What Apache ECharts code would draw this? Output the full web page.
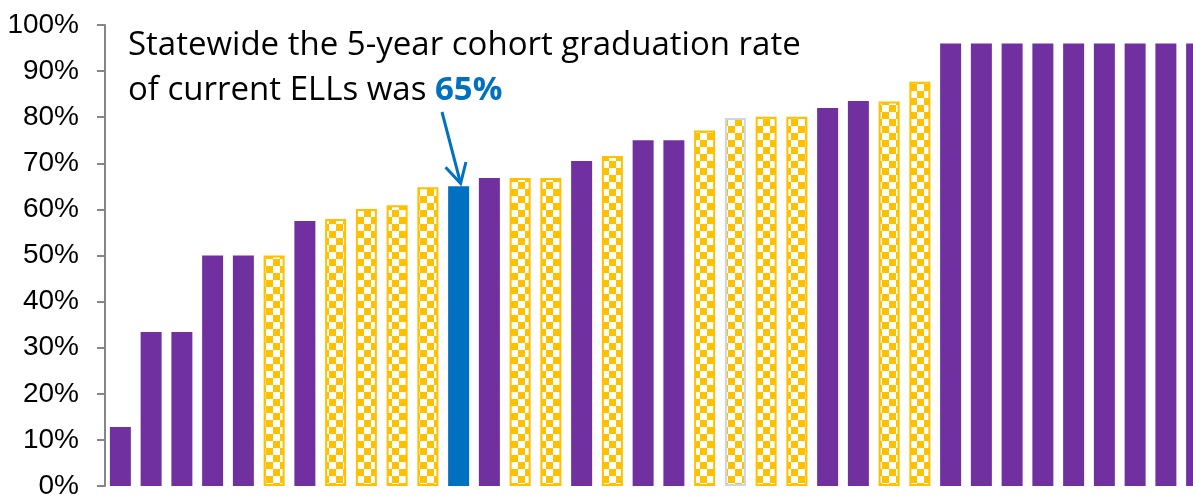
<!DOCTYPE html>
<html>
<head>
<meta charset="utf-8">
<script src="https://cdn.jsdelivr.net/npm/echarts@6/dist/echarts.min.js"></script>
<style>
  html, body { margin: 0; padding: 0; background: #fff; }
  #chart { width: 1193px; height: 497px; }
</style>
</head>
<body>
<div id="chart"></div>
<script>
// graduation rate per district, sorted ascending
const rates = [
  12.8, 33.4, 33.4, 50, 50, 50, 57.5, 57.9, 60.1, 60.9,
  64.8, 65, 66.8, 66.8, 66.8, 70.5, 71.6, 75, 75, 77.1,
  79.8, 80.1, 80.1, 82, 83.5, 83.4, 87.7, 96, 96, 96,
  96, 96, 96, 96, 96, 96
]
// p = purple solid, c = yellow checker, b = statewide (blue)
const kinds = [
  'p', 'p', 'p', 'p', 'p', 'c', 'p', 'c', 'c', 'c',
  'c', 'b', 'p', 'c', 'c', 'p', 'c', 'p', 'p', 'c',
  'c', 'c', 'c', 'p', 'p', 'c', 'c', 'p', 'p', 'p',
  'p', 'p', 'p', 'p', 'p', 'p'
]
const categories = rates.map((_, i) => 'D' + (i + 1))
const yTicks = [0, 10, 20, 30, 40, 50, 60, 70, 80, 90, 100]
const statewideIndex = kinds.indexOf('b')

const PURPLE = '#7030A0'
const BLUE = '#0070C0'
const YELLOW = '#FFC000'

// checker pattern
const makeChecker = () => {
  const s = 7
  const c = document.createElement('canvas')
  c.width = s * 2
  c.height = s * 2
  const ctx = c.getContext('2d')
  ctx.fillStyle = '#fff'
  ctx.fillRect(0, 0, s * 2, s * 2)
  ctx.fillStyle = YELLOW
  ctx.fillRect(0, 0, s, s)
  ctx.fillRect(s, s, s, s)
  return c
}
const checker = {image: makeChecker(), repeat: 'repeat'}

const barData = rates.map((v, i) => {
  const k = kinds[i]
  if (k === 'c') {
    return {
      value: v,
      itemStyle: {
        color: checker,
        borderColor: i === 20 ? '#C9D6EA' : YELLOW,
        borderWidth: 2
      }
    }
  }
  return {value: v, itemStyle: {color: k === 'b' ? BLUE : PURPLE}}
})

const chart = echarts.init(document.getElementById('chart'))

const option = {
  animation: false,
  grid: {
    left: 105,
    top: 25,
    bottom: 11,
    width: 1107,
    outerBoundsMode: 'none',
    containLabel: false
  },
  xAxis: {
    type: 'category',
    data: categories,
    axisLine: {show: false},
    axisTick: {show: false},
    axisLabel: {show: false}
  },
  yAxis: {
    type: 'value',
    min: yTicks[0],
    max: yTicks[yTicks.length - 1],
    interval: 10,
    axisLine: {show: true, lineStyle: {color: '#868686', width: 2}},
    axisTick: {show: true, length: 8, lineStyle: {color: '#868686', width: 2}},
    splitLine: {show: false},
    axisLabel: {
      formatter: '{value}%',
      fontFamily: 'Liberation Sans',
      fontSize: 28,
      color: '#000',
      margin: 26
    }
  },
  series: [
    {
      type: 'bar',
      data: barData,
      barWidth: 21
    }
  ]
}

chart.setOption(option)

// annotation text + arrow pointing at the statewide bar
const tip = chart.convertToPixel({seriesIndex: 0}, [statewideIndex, rates[statewideIndex]])
const tipX = tip[0] + 2
const tipY = tip[1] - 3
const startX = 442
const startY = 112
const ang = Math.atan2(tipY - startY, tipX - startX)
const wing = 22
const spread = 0.5
const w1 = [tipX - wing * Math.cos(ang - spread), tipY - wing * Math.sin(ang - spread)]
const w2 = [tipX - wing * Math.cos(ang + spread), tipY - wing * Math.sin(ang + spread)]

chart.setOption({
  graphic: [
    {
      type: 'text',
      left: 128,
      top: 29,
      style: {
        text: 'Statewide the 5-year cohort graduation rate',
        fontFamily: 'Open Sans',
        fontSize: 33,
        fill: '#000'
      }
    },
    {
      type: 'text',
      left: 128,
      top: 74,
      style: {
        text: '{a|of current ELLs was }{b|65%}',
        rich: {
          a: {fontFamily: 'Open Sans', fontSize: 33, fill: '#000', color: '#000'},
          b: {fontFamily: 'Open Sans', fontSize: 33, fontWeight: 'bold', color: BLUE, fill: BLUE}
        }
      }
    },
    {
      type: 'line',
      shape: {x1: startX, y1: startY, x2: tipX, y2: tipY},
      style: {stroke: BLUE, lineWidth: 3}
    },
    {
      type: 'polyline',
      shape: {points: [w1, [tipX, tipY], w2]},
      style: {stroke: BLUE, lineWidth: 3, fill: null}
    }
  ]
})
</script>
</body>
</html>
